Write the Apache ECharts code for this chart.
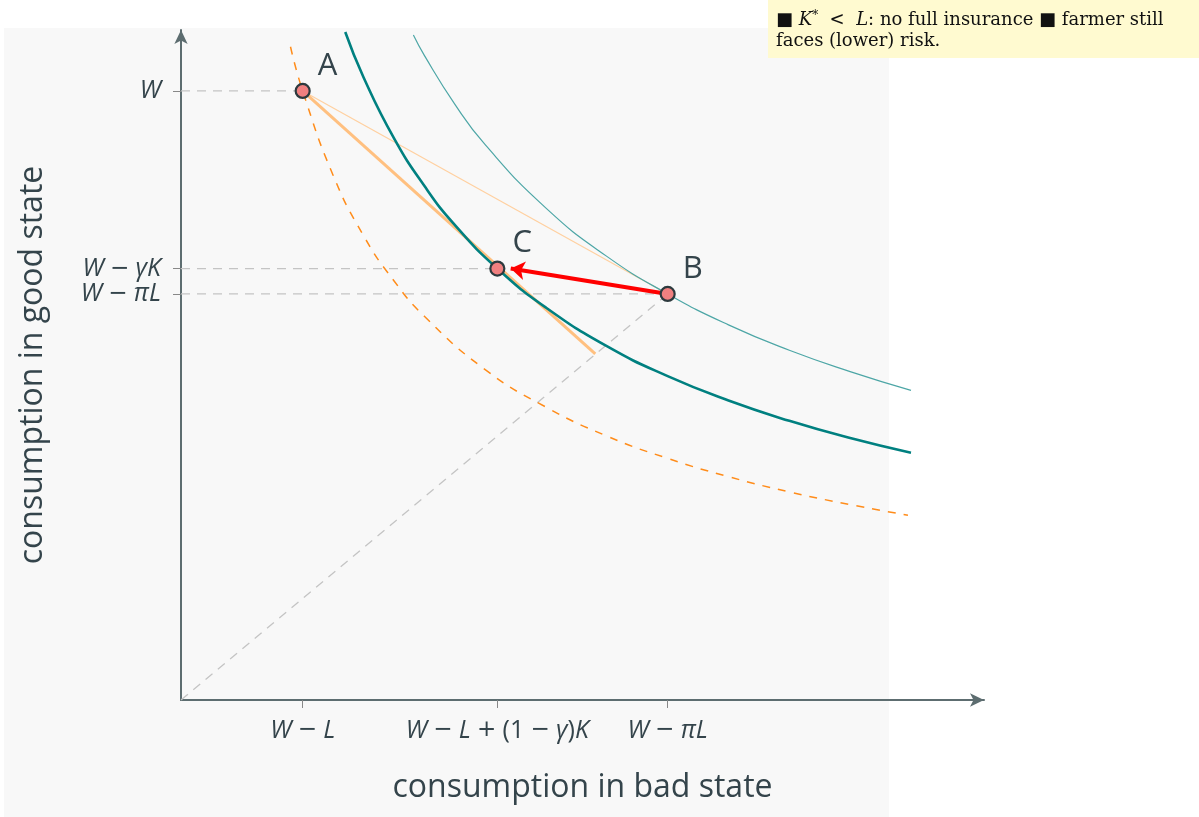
<!DOCTYPE html>
<html><head><meta charset="utf-8">
<script src="https://cdn.jsdelivr.net/npm/echarts@6/dist/echarts.min.js"></script>
<style>html,body{margin:0;padding:0;background:#fff}#c{width:1199px;height:817px}</style>
</head><body><div id="c"></div>
<script>
// ---- data ----
const G = '\u2005'; // math-style gap around operators
const M = G + '{o|−}' + G;
const P = G + '{o|+}' + G;
const xTickValues = [2, 5.2, 8];
const xTickLabels = ['{i|W}' + M + '{i|L}', '{i|W}' + M + '{i|L}' + P + '(1' + M + '{i|γ}){i|K}', '{i|W}' + M + '{i|π}{i|L}'];
const yTickValues = [12, 8.5, 8];
const yTickLabels = ['{i|W}', '{i|W}' + M + '{i|γ}{i|K}', '{i|W}' + M + '{i|π}{i|L}'];
const pointNames = ['A', 'B', 'C'];
const pointX = [2, 8, 5.2];
const pointY = [12, 8, 8.5];
// indifference curve through A (dashed orange)
const icAX = [1.8, 2, 2.5, 3, 3.5, 4, 5, 6, 7, 8, 9, 10, 11, 11.95];
const icAY = [12.87, 12.0, 10.34, 9.15, 8.26, 7.56, 6.51, 5.77, 5.20, 4.76, 4.40, 4.10, 3.85, 3.64];
// indifference curve through C (thick teal)
const icCX = [2.7, 3, 3.5, 4, 4.5, 5.2, 6, 7, 8, 9, 10, 11, 12];
const icCY = [13.16, 12.27, 11.07, 10.13, 9.36, 8.5, 7.73, 6.97, 6.38, 5.90, 5.50, 5.16, 4.87];
// indifference curve through B (thin teal)
const icBX = [3.82, 4, 4.5, 5, 6, 7, 8, 9, 10, 11, 12];
const icBY = [13.10, 12.70, 11.74, 10.94, 9.69, 8.74, 8.0, 7.39, 6.89, 6.47, 6.10];
// budget lines
const budgetInsX = [2, 6.81];
const budgetInsY = [12, 6.82];
const fairLineX = [2, 8];
const fairLineY = [12, 8];
// arrow B -> C
const arrowFrom = [8, 8];
const arrowTo = [5.42, 8.5];
const axisMax = 13.2;

const zip = (xs, ys) => xs.map((x, i) => [x, ys[i]]);
const txt = '#34444b';
const axisCol = '#5d6d70';
const guide = { color: '#c4c4c4', width: 1.3, type: [9, 7] };
const richI = {
  i: { fontStyle: 'italic', fontFamily: 'Open Sans', fontSize: 25, color: txt },
  o: { fontFamily: 'DejaVu Sans', fontSize: 23, color: txt }
};

const chart = echarts.init(document.getElementById('c'));
function lineSeries(data, style, z) {
  return { type: 'line', data, showSymbol: false, symbol: 'none', smooth: false, lineStyle: style, z: z || 2, silent: true, animation: false };
}
const option = {
  animation: false,
  grid: { left: 181, right: 215, top: 30, bottom: 117 },
  graphic: [
    { type: 'rect', shape: { x: 4, y: 28, width: 885, height: 789 }, style: { fill: '#f8f8f8' }, z: -10, silent: true },
    { type: 'rect', shape: { x: 768, y: 0, width: 431, height: 58 }, style: { fill: '#fffad0' }, z: 100, silent: true },
    { type: 'text', x: 776, y: 10, z: 101, silent: true,
      style: {
        text: '■ {m|K}{s|*}  <  {m|L}: no full insurance ■ farmer still\nfaces (lower) risk.',
        font: '18px "DejaVu Serif"', fill: '#111', lineHeight: 21,
        rich: {
          m: { fontStyle: 'italic', fontFamily: 'DejaVu Serif', fontSize: 18 },
          s: { fontFamily: 'DejaVu Serif', fontSize: 12, verticalAlign: 'top', padding: [0, 0, 6, 0] }
        }
      } }
  ],
  xAxis: {
    type: 'value', min: 0, max: axisMax,
    name: 'consumption in bad state', nameLocation: 'middle', nameGap: 72,
    nameTextStyle: { fontFamily: 'Open Sans', fontSize: 32, color: txt },
    axisLine: { show: true, lineStyle: { color: axisCol, width: 2 }, symbol: ['none', 'arrow'], symbolSize: [10, 14] },
    axisTick: { show: true, customValues: xTickValues, length: 8, lineStyle: { color: '#888', width: 1 } },
    axisLabel: { customValues: xTickValues, margin: 18, fontFamily: 'Open Sans', fontSize: 25, color: txt,
      formatter: v => xTickLabels[xTickValues.indexOf(v)] || '', rich: richI },
    splitLine: { show: false }
  },
  yAxis: {
    type: 'value', min: 0, max: axisMax,
    name: 'consumption in good state', nameLocation: 'middle', nameGap: 132,
    nameTextStyle: { fontFamily: 'Open Sans', fontSize: 32, color: txt },
    axisLine: { show: true, lineStyle: { color: axisCol, width: 2 }, symbol: ['none', 'arrow'], symbolSize: [10, 14] },
    axisTick: { show: true, customValues: yTickValues, length: 8, lineStyle: { color: '#888', width: 1 } },
    axisLabel: { customValues: yTickValues, margin: 20, fontFamily: 'Open Sans', fontSize: 25, color: txt,
      formatter: v => yTickLabels[yTickValues.indexOf(v)] || '', rich: richI },
    splitLine: { show: false }
  },
  series: [
    lineSeries([[0, pointY[0]], [pointX[0], pointY[0]]], guide, 1),
    lineSeries([[0, pointY[2]], [pointX[2], pointY[2]]], guide, 1),
    lineSeries([[0, pointY[1]], [pointX[1], pointY[1]]], guide, 1),
    lineSeries([[0, 0], [pointX[1], pointY[1]]], guide, 1),
    Object.assign(lineSeries(zip(icAX, icAY), { color: '#ff8c1a', width: 1.5, type: [8, 8] }), { smooth: true }),
    lineSeries(zip(fairLineX, fairLineY), { color: '#ffd0a0', width: 1.2 }),
    lineSeries(zip(budgetInsX, budgetInsY), { color: '#ffc080', width: 3 }),
    Object.assign(lineSeries(zip(icBX, icBY), { color: '#4da6a6', width: 1.2 }), { smooth: true }),
    Object.assign(lineSeries(zip(icCX, icCY), { color: '#008080', width: 2.6 }), { smooth: true }),
    { type: 'lines', coordinateSystem: 'cartesian2d', z: 5, silent: true,
      symbol: ['none', 'arrow'], symbolSize: 14,
      lineStyle: { color: '#ff0000', width: 4, opacity: 1, curveness: 0 },
      data: [{ coords: [arrowFrom, arrowTo] }] },
    { type: 'scatter', z: 10, silent: true, symbolSize: 14,
      itemStyle: { color: '#f08080', borderColor: '#2d3a3e', borderWidth: 2.2, opacity: 1 },
      label: { show: true, position: 'right', formatter: p => p.name, fontFamily: 'Open Sans', fontSize: 31, color: txt },
      data: pointNames.map((n, i) => ({ name: n, value: [pointX[i], pointY[i]],
        label: { offset: [2, -25] } })) }
  ]
};
chart.setOption(option);
</script></body></html>
